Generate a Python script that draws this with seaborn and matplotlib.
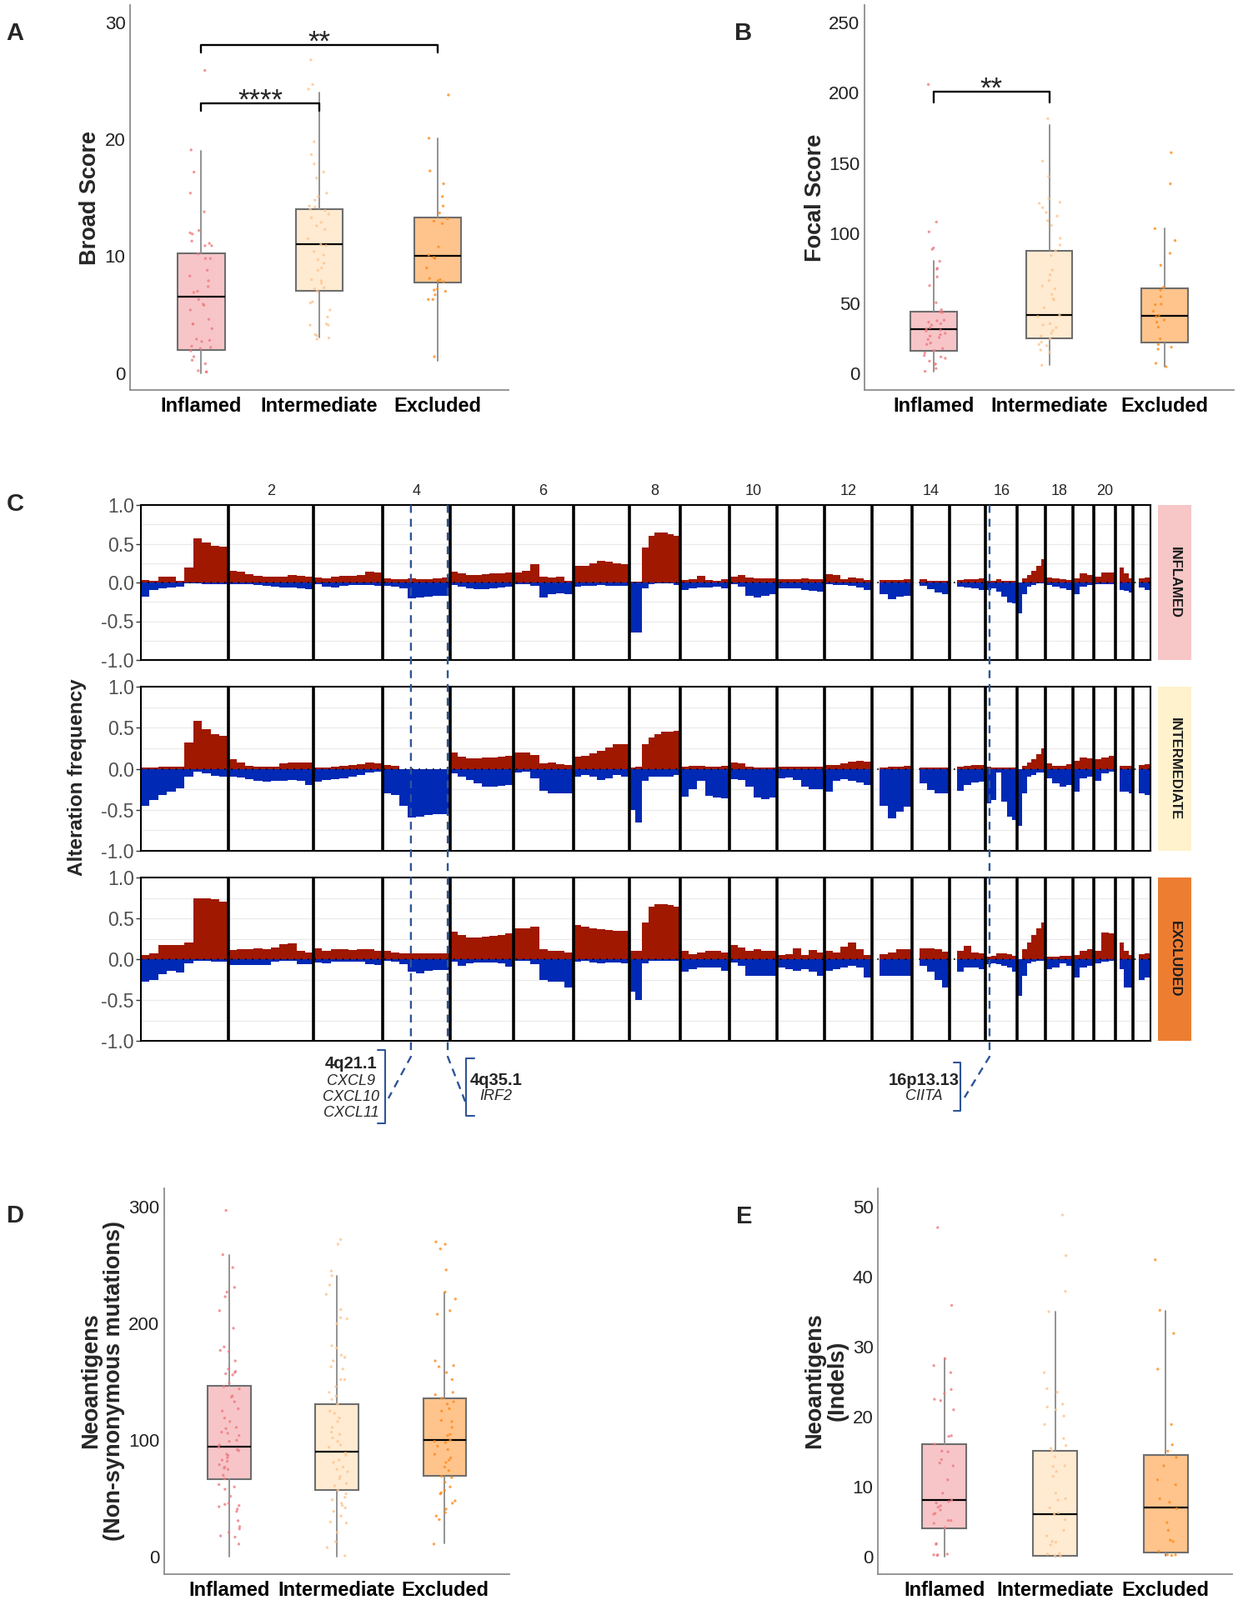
import numpy as np
import pandas as pd
import seaborn as sns
import matplotlib.pyplot as plt
from matplotlib import font_manager
from matplotlib.lines import Line2D

nan = np.nan

groups = ["Inflamed", "Intermediate", "Excluded"]
box_fill = {"Inflamed": "#F7C5C8", "Intermediate": "#FFEBD2", "Excluded": "#FFC48C"}
dot_col = {"Inflamed": "#EE7B80", "Intermediate": "#FFC48E", "Excluded": "#FF8A1C"}

# box stats per group: [whisker low, q1, median, q3, whisker high]
broad_box = [[0.0, 2.0, 6.55, 10.25, 19.0], [3.05, 7.04, 11.04, 14.06, 24.0], [1.07, 7.78, 10.04, 13.28, 20.06]]
broad_inflamed = [25.9, 19.1, 17.2, 15.4, 13.8, 12.2, 12.0, 11.9, 11.3, 11.1, 10.9, 10.9, 10.2, 9.8, 9.8, 8.8,
                  8.3, 7.9, 7.4, 7.0, 6.9, 6.3, 5.9, 5.8, 5.4, 4.6, 4.2, 4.2, 3.8, 2.9, 2.8, 2.7, 2.3, 2.2,
                  2.1, 1.9, 1.4, 1.1, 0.8, 0.2, 0.1, 0.1]
broad_intermediate = [26.8, 24.7, 24.3, 19.8, 18.7, 17.9, 17.2, 16.7, 15.4, 15.1, 14.8, 14.3, 14.2, 14.0, 13.9,
                      13.6, 13.3, 12.9, 12.6, 12.3, 11.5, 11.0, 10.9, 10.4, 10.1, 9.7, 9.4, 9.0, 8.8, 8.0, 7.9,
                      7.7, 7.3, 7.2, 7.0, 6.1, 6.0, 5.4, 4.8, 4.2, 4.1, 4.1, 3.3, 3.2, 3.0, 2.9]
broad_excluded = [23.8, 20.1, 17.3, 16.2, 15.1, 14.3, 13.7, 13.2, 13.0, 12.8, 10.8, 10.1, 9.9, 9.8, 9.0, 8.1,
                  8.0, 7.9, 7.8, 7.2, 7.1, 7.0, 6.7, 6.3, 6.3, 1.4]

focal_box = [[1.6, 16.4, 31.5, 44.1, 80.2], [5.9, 25.3, 41.6, 87.5, 177.2], [4.9, 22.2, 41.0, 61.0, 103.3]]
focal_inflamed = [206, 108, 101, 89.5, 88.5, 80, 75, 74.4, 68.9, 62.7, 50.5, 45.5, 44, 43.5, 38, 37.6, 36.6,
                  35.6, 34.6, 32.7, 31.7, 31, 30.3, 28.7, 27.7, 26.7, 25.7, 24.3, 21.8, 20.8, 17.8, 16.4,
                  14.8, 12.9, 11.9, 10.9, 8.9, 6.9, 6.3, 3.6, 1.6]
focal_intermediate = [181.7, 151.4, 140.5, 124.7, 122.1, 121.3, 118.2, 114.8, 112.2, 108.9, 105.5, 96.4, 91.6,
                      87.5, 84.1, 73.8, 70.3, 66.3, 62.4, 60.4, 56.4, 53.4, 52.5, 46.9, 41.6, 40.6, 35.6,
                      34.6, 32.7, 30.7, 28.7, 26.7, 24.7, 22.4, 20.8, 19.8, 16.8, 15.2, 5.9]
focal_excluded = [157.4, 135.2, 103.3, 94.8, 85.7, 77.2, 61.4, 59.4, 54.8, 49.5, 49.1, 44.5, 41.6, 40.6, 38.2,
                  36.6, 33.1, 24.7, 20.8, 18.8, 17.4, 7.3, 4.9]

nonsyn_box = [[0, 66.4, 94.5, 146.4, 258.8], [0, 57.6, 90.5, 131.0, 241.0], [11.4, 69.5, 100.5, 135.7, 226.7]]
nonsyn_inflamed = [297, 259, 248, 231, 227, 223, 211, 196, 180, 177, 176, 168, 161, 159, 158, 157, 156, 149,
                   146, 144, 138, 137, 133, 127, 125, 119, 116, 111, 110, 107, 106, 104, 100, 99, 96, 94, 92,
                   91, 88, 87, 85, 83, 82, 79, 77, 76, 75, 70, 67, 62, 60, 58, 52, 46, 45, 44, 43, 41, 39,
                   31, 26, 24, 21, 18, 17, 11]
nonsyn_intermediate = [272, 268, 245, 241, 233, 225, 212, 205, 204, 200, 181, 179, 173, 171, 168, 163, 161,
                       152, 152, 146, 141, 138, 135, 131, 125, 123, 119, 116, 111, 107, 105, 102, 99, 96, 94,
                       89, 87, 83, 81, 77, 75, 73, 69, 67, 63, 61, 57, 54, 51, 49, 46, 44, 42, 39, 35, 30,
                       29, 21, 13, 8, 1]
nonsyn_excluded = [270, 268, 264, 246, 227, 221, 211, 208, 168, 164, 163, 158, 152, 141, 139, 136, 133, 131,
                   127, 125, 117, 116, 111, 105, 104, 100, 99, 98, 95, 92, 88, 85, 83, 81, 77, 74, 69, 68, 64,
                   60, 57, 55, 54, 48, 46, 41, 38, 35, 32, 11]

indel_box = [[0, 4.1, 8.1, 16.05, 28.3], [0, 0.1, 6.1, 15.1, 35.0], [0.2, 0.6, 7.1, 14.6, 35.1]]
indel_inflamed = [47, 35.9, 28.3, 27.3, 26.3, 23.9, 23.3, 22.5, 22.3, 21, 17.3, 17.2, 16.1, 15.1, 15, 13.9,
                  13.4, 13, 11, 9.1, 8.1, 7.9, 7.7, 7.3, 7.1, 6.7, 6.2, 6.1, 5.2, 5.2, 4.8, 4.2, 1.9, 1.8,
                  0.4, 0.3, 0.3, 0.2]
indel_intermediate = [48.8, 43, 37.9, 35, 26.3, 24, 23.5, 21.8, 21.4, 21, 20.1, 18.9, 16.9, 15.9, 15.5, 15.1,
                      14.3, 13, 12.9, 12.2, 11.5, 9.1, 8.3, 8.1, 7, 6.3, 6.1, 5.3, 3.8, 3, 2.2, 2.1, 1.7,
                      0.5, 0.4, 0.2, 0.1]
indel_excluded = [42.4, 35.2, 31.9, 26.8, 18.9, 16, 15.1, 14.2, 13, 11, 10.3, 8.3, 7.8, 6.9, 4.9, 3.8, 2.4,
                  2.2, 0.8, 0.3, 0.2, 0.3]

# chromosome lengths (Mb) and alteration frequency, equal-width bins per chromosome
chrom_len = [249, 243, 198, 191, 181, 171, 159, 146, 141, 136, 135, 134, 115, 107, 103, 90, 81, 78, 59, 63, 48, 51]
chrom_labels = ["2", "4", "6", "8", "10", "12", "14", "16", "18", "20"]

inflamed_gain = [
    [0.03, 0.02, 0.07, 0.07, 0.02, 0.19, 0.57, 0.52, 0.47, 0.46],
    [0.15, 0.14, 0.11, 0.09, 0.08, 0.07, 0.07, 0.10, 0.09, 0.08],
    [0.06, 0.05, 0.08, 0.09, 0.09, 0.10, 0.14, 0.13],
    [0.05, 0.04, 0.04, 0.05, 0.04, 0.04, 0.05, 0.06],
    [0.14, 0.12, 0.10, 0.10, 0.11, 0.12, 0.12, 0.13],
    [0.13, 0.15, 0.24, 0.07, 0.06, 0.07, 0.02],
    [0.22, 0.22, 0.25, 0.28, 0.27, 0.25, 0.24],
    [0.01, 0.01, 0.45, 0.60, 0.64, 0.64, 0.62, 0.60],
    [0.03, 0.04, 0.09, 0.03, 0.02, 0.04],
    [0.08, 0.10, 0.06, 0.05, 0.05, 0.05],
    [0.04, 0.04, 0.04, 0.05, 0.04, 0.04],
    [0.11, 0.10, 0.04, 0.06, 0.05, 0.03],
    [nan, 0.03, 0.03, 0.03, 0.04],
    [nan, 0.04, 0.02, 0.02, 0.02],
    [nan, 0.03, 0.04, 0.04, 0.05],
    [0.02, 0.02, 0.04, 0.02, 0.02, 0.02],
    [0.0, 0.05, 0.10, 0.15, 0.22, 0.30],
    [0.06, 0.05, 0.04, 0.03],
    [0.05, 0.12, 0.10],
    [0.07, 0.13, 0.13],
    [nan, 0.19, 0.12, 0.05],
    [nan, 0.05, 0.06],
]
inflamed_loss = [
    [-0.18, -0.10, -0.07, -0.06, -0.05, -0.01, -0.01, -0.02, -0.02, -0.02],
    [-0.02, -0.02, -0.02, -0.03, -0.04, -0.05, -0.06, -0.06, -0.07, -0.09],
    [-0.02, -0.05, -0.06, -0.04, -0.03, -0.03, -0.03, -0.04],
    [-0.04, -0.05, -0.08, -0.20, -0.19, -0.18, -0.17, -0.17],
    [-0.03, -0.05, -0.08, -0.09, -0.09, -0.07, -0.06, -0.05],
    [-0.02, -0.02, -0.04, -0.19, -0.15, -0.14, -0.15],
    [-0.05, -0.04, -0.04, -0.03, -0.04, -0.04, -0.04],
    [-0.64, -0.64, -0.08, -0.02, -0.01, -0.01, -0.01, -0.03],
    [-0.10, -0.08, -0.06, -0.06, -0.05, -0.08],
    [-0.02, -0.05, -0.17, -0.19, -0.17, -0.15],
    [-0.08, -0.07, -0.07, -0.10, -0.11, -0.12],
    [-0.02, -0.03, -0.03, -0.04, -0.06, -0.10],
    [nan, -0.15, -0.22, -0.18, -0.17],
    [nan, -0.04, -0.09, -0.13, -0.15],
    [nan, -0.05, -0.06, -0.08, -0.10],
    [-0.10, -0.07, -0.12, -0.18, -0.26, -0.27],
    [-0.40, -0.15, -0.05, -0.03, -0.01, -0.01],
    [-0.03, -0.05, -0.07, -0.10],
    [-0.15, -0.05, -0.03],
    [-0.02, -0.02, -0.02],
    [nan, -0.10, -0.11, -0.13],
    [nan, -0.06, -0.10],
]
intermediate_gain = [
    [0.02, 0.02, 0.03, 0.03, 0.03, 0.32, 0.58, 0.48, 0.42, 0.40],
    [0.12, 0.08, 0.04, 0.03, 0.03, 0.03, 0.07, 0.08, 0.08, 0.08],
    [0.02, 0.02, 0.03, 0.04, 0.05, 0.06, 0.08, 0.07],
    [0.05, 0.04, 0.0, 0.0, 0.0, 0.0, 0.0, 0.0],
    [0.20, 0.15, 0.13, 0.13, 0.14, 0.14, 0.15, 0.16],
    [0.20, 0.20, 0.17, 0.07, 0.08, 0.06, 0.05],
    [0.15, 0.16, 0.19, 0.22, 0.26, 0.30, 0.30],
    [0.02, 0.03, 0.30, 0.38, 0.42, 0.45, 0.45, 0.46],
    [0.03, 0.04, 0.04, 0.03, 0.03, 0.04],
    [0.08, 0.07, 0.03, 0.02, 0.02, 0.02],
    [0.03, 0.03, 0.03, 0.03, 0.03, 0.03],
    [0.05, 0.05, 0.07, 0.09, 0.10, 0.09],
    [nan, 0.02, 0.03, 0.03, 0.04],
    [nan, 0.02, 0.02, 0.02, 0.02],
    [nan, 0.03, 0.04, 0.05, 0.05],
    [0.03, 0.02, 0.02, 0.02, 0.02, 0.02],
    [0.0, 0.04, 0.08, 0.12, 0.18, 0.25],
    [0.07, 0.04, 0.04, 0.06],
    [0.10, 0.14, 0.13],
    [0.12, 0.14, 0.16],
    [nan, 0.04, 0.04, 0.04],
    [nan, 0.05, 0.06],
]
intermediate_loss = [
    [-0.45, -0.38, -0.32, -0.28, -0.24, -0.10, -0.04, -0.06, -0.09, -0.10],
    [-0.10, -0.11, -0.13, -0.15, -0.16, -0.15, -0.15, -0.14, -0.15, -0.20],
    [-0.16, -0.14, -0.13, -0.12, -0.10, -0.08, -0.05, -0.04],
    [-0.30, -0.32, -0.45, -0.59, -0.58, -0.56, -0.55, -0.55],
    [-0.06, -0.10, -0.14, -0.18, -0.22, -0.22, -0.21, -0.20],
    [-0.05, -0.04, -0.12, -0.27, -0.30, -0.30, -0.30],
    [-0.10, -0.08, -0.10, -0.14, -0.12, -0.08, -0.10],
    [-0.50, -0.65, -0.15, -0.10, -0.10, -0.10, -0.10, -0.08],
    [-0.34, -0.25, -0.15, -0.33, -0.35, -0.36],
    [-0.13, -0.14, -0.22, -0.35, -0.37, -0.35],
    [-0.12, -0.11, -0.14, -0.22, -0.25, -0.25],
    [-0.28, -0.15, -0.13, -0.15, -0.17, -0.20],
    [nan, -0.45, -0.60, -0.52, -0.46],
    [nan, -0.18, -0.26, -0.30, -0.30],
    [nan, -0.27, -0.20, -0.17, -0.16],
    [-0.42, -0.38, -0.05, -0.40, -0.58, -0.62],
    [-0.70, -0.30, -0.10, -0.08, -0.05, -0.05],
    [-0.12, -0.18, -0.22, -0.20],
    [-0.28, -0.12, -0.10],
    [-0.15, -0.06, -0.04],
    [nan, -0.28, -0.28, -0.30],
    [nan, -0.30, -0.32],
]
excluded_gain = [
    [0.05, 0.07, 0.17, 0.17, 0.17, 0.20, 0.74, 0.74, 0.73, 0.70],
    [0.11, 0.12, 0.12, 0.13, 0.12, 0.14, 0.18, 0.19, 0.10, 0.08],
    [0.13, 0.10, 0.12, 0.12, 0.11, 0.12, 0.12, 0.10],
    [0.10, 0.08, 0.07, 0.07, 0.07, 0.07, 0.07, 0.07],
    [0.34, 0.30, 0.27, 0.27, 0.28, 0.29, 0.30, 0.32],
    [0.38, 0.38, 0.40, 0.12, 0.10, 0.10, 0.08],
    [0.42, 0.40, 0.38, 0.37, 0.36, 0.35, 0.35],
    [0.10, 0.10, 0.45, 0.64, 0.67, 0.67, 0.66, 0.64],
    [0.10, 0.06, 0.08, 0.10, 0.10, 0.08],
    [0.17, 0.14, 0.10, 0.12, 0.10, 0.10],
    [0.05, 0.06, 0.13, 0.05, 0.11, 0.08],
    [0.10, 0.08, 0.15, 0.20, 0.12, 0.05],
    [nan, 0.06, 0.08, 0.12, 0.12],
    [nan, 0.13, 0.13, 0.12, 0.09],
    [nan, 0.10, 0.16, 0.08, 0.07],
    [0.03, 0.04, 0.07, 0.07, 0.06, 0.04],
    [0.0, 0.12, 0.20, 0.30, 0.38, 0.45],
    [0.03, 0.03, 0.04, 0.04],
    [0.05, 0.10, 0.12],
    [0.10, 0.33, 0.32],
    [nan, 0.20, 0.10, 0.05],
    [nan, 0.06, 0.07],
]
excluded_loss = [
    [-0.28, -0.26, -0.18, -0.14, -0.16, -0.05, -0.02, -0.02, -0.03, -0.03],
    [-0.07, -0.07, -0.07, -0.07, -0.07, -0.03, -0.02, -0.02, -0.06, -0.06],
    [-0.04, -0.05, -0.03, -0.03, -0.03, -0.03, -0.06, -0.07],
    [-0.02, -0.03, -0.06, -0.15, -0.17, -0.14, -0.13, -0.13],
    [-0.03, -0.08, -0.05, -0.04, -0.04, -0.04, -0.05, -0.09],
    [-0.02, -0.02, -0.06, -0.26, -0.28, -0.28, -0.35],
    [-0.03, -0.02, -0.04, -0.05, -0.04, -0.04, -0.05],
    [-0.40, -0.50, -0.05, -0.02, -0.02, -0.02, -0.02, -0.02],
    [-0.15, -0.12, -0.10, -0.10, -0.10, -0.14],
    [-0.04, -0.08, -0.20, -0.20, -0.20, -0.20],
    [-0.10, -0.12, -0.14, -0.12, -0.15, -0.20],
    [-0.14, -0.12, -0.10, -0.08, -0.10, -0.22],
    [nan, -0.20, -0.20, -0.20, -0.20],
    [nan, -0.08, -0.15, -0.25, -0.35],
    [nan, -0.15, -0.10, -0.10, -0.12],
    [-0.06, -0.05, -0.06, -0.08, -0.10, -0.15],
    [-0.45, -0.20, -0.05, -0.03, -0.02, -0.02],
    [-0.12, -0.10, -0.05, -0.08],
    [-0.22, -0.10, -0.08],
    [-0.05, -0.03, -0.02],
    [nan, -0.12, -0.35, -0.35],
    [nan, -0.25, -0.22],
]

strip_names = ["INFLAMED", "INTERMEDIATE", "EXCLUDED"]
strip_cols = ["#F7C6C7", "#FFF2CC", "#ED7D31"]

# (chromosome, position in Mb, label, genes)
loci = [(4, 80, "4q21.1", ["CXCL9", "CXCL10", "CXCL11"]),
        (4, 185, "4q35.1", ["IRF2"]),
        (16, 11, "16p13.13", ["CIITA"])]

sns.set_theme(style="white")
plt.rcParams["font.family"] = ["Liberation Sans", "DejaVu Sans"]

narrow = "Liberation Sans Narrow"
narrow_size = 17.5
try:
    font_manager.findfont(font_manager.FontProperties(family=narrow), fallback_to_default=False)
except ValueError:
    narrow = "Liberation Sans"
    narrow_size = 16.5

W, H = 1485, 1920
fig = plt.figure(figsize=(W / 100, H / 100), dpi=100)


def px_axes(left, top, right, bottom):
    return fig.add_axes([left / W, 1 - bottom / H, (right - left) / W, (bottom - top) / H])


def fx(px):
    return px / W


def fy(py):
    return 1 - py / H


def box_panel(ax, stats, points, ylim, yticks):
    bstats = [dict(whislo=s[0], q1=s[1], med=s[2], q3=s[3], whishi=s[4], fliers=[], label=g)
              for s, g in zip(stats, groups)]
    bp = ax.bxp(bstats, positions=[0, 1, 2], widths=0.4, patch_artist=True,
                showcaps=False, showfliers=False,
                boxprops=dict(edgecolor="#6e6e6e", linewidth=1.5),
                medianprops=dict(color="black", linewidth=1.6),
                whiskerprops=dict(color="#8a8a8a", linewidth=1.3))
    for patch, g in zip(bp["boxes"], groups):
        patch.set_facecolor(box_fill[g])
        patch.set_zorder(2)

    df = pd.DataFrame({
        "group": np.repeat(groups, [len(p) for p in points]),
        "value": np.concatenate(points)
    })
    sns.stripplot(data=df, x="group", y="value", hue="group", order=groups,
                  hue_order=groups, palette=dot_col, jitter=0.1, size=2.4,
                  alpha=0.8, linewidth=0, legend=False, ax=ax, zorder=3)

    ax.set_xlim(-0.6, 2.6)
    ax.set_ylim(*ylim)
    ax.set_yticks(yticks)
    ax.set_yticklabels([str(t) for t in yticks], fontsize=16, color="#222222")
    ax.set_xticks([0, 1, 2])
    ax.set_xticklabels(groups, fontsize=17, fontweight="bold", color="black")
    ax.set_xlabel("")
    ax.set_ylabel("")
    for side in ["top", "right"]:
        ax.spines[side].set_visible(False)
    for side in ["left", "bottom"]:
        ax.spines[side].set_color("#8c8c8c")
        ax.spines[side].set_linewidth(1.3)
    ax.tick_params(axis="x", length=3, width=1, color="#8c8c8c", pad=3)
    ax.tick_params(axis="y", length=2, width=1, color="#8c8c8c", pad=2)
    ax.set_facecolor("white")


def bracket(ax, x1, x2, y, drop, text, ty):
    ax.plot([x1, x1, x2, x2], [y - drop, y, y, y - drop], color="black", lw=1.7,
            clip_on=False, zorder=4)
    ax.text((x1 + x2) / 2, ty, text, ha="center", va="baseline", fontsize=25)


# Panel A
ax_a = px_axes(156, 6, 610, 468)
box_panel(ax_a, broad_box, [broad_inflamed, broad_intermediate, broad_excluded],
          (-1.45, 31.5), [0, 10, 20, 30])
bracket(ax_a, 0, 2, 28.1, 0.65, "**", 27.6)
bracket(ax_a, 0, 1, 23.1, 0.65, "****", 22.6)
fig.text(fx(108), fy(237), "Broad Score", rotation=90, ha="center", va="center",
         fontsize=19.5, fontweight="bold")

# Panel B
ax_b = px_axes(1037, 6, 1480, 468)
box_panel(ax_b, focal_box, [focal_inflamed, focal_intermediate, focal_excluded],
          (-11.7, 262.6), [0, 50, 100, 150, 200, 250])
bracket(ax_b, 0, 1, 200.9, 7.5, "**", 197.0)
fig.text(fx(978), fy(237), "Focal Score", rotation=90, ha="center", va="center",
         fontsize=19.5, fontweight="bold")

# Panel D
ax_d = px_axes(197, 1426, 611, 1889)
box_panel(ax_d, nonsyn_box, [nonsyn_inflamed, nonsyn_intermediate, nonsyn_excluded],
          (-14.8, 315.9), [0, 100, 200, 300])
fig.text(fx(123), fy(1657), "Neoantigens\n(Non-synonymous mutations)", rotation=90,
         ha="center", va="center", fontsize=19.5, fontweight="bold", linespacing=1.05)

# Panel E
ax_e = px_axes(1053, 1426, 1478, 1889)
box_panel(ax_e, indel_box, [indel_inflamed, indel_intermediate, indel_excluded],
          (-2.46, 52.6), [0, 10, 20, 30, 40, 50])
fig.text(fx(991), fy(1657), "Neoantigens\n(Indels)", rotation=90,
         ha="center", va="center", fontsize=19.5, fontweight="bold", linespacing=1.05)

# Panel C: genome-wide alteration frequency
offsets = np.concatenate([[0], np.cumsum(chrom_len)])
rows = [(606, 792), (824, 1021), (1053, 1249)]
profiles = [(inflamed_gain, inflamed_loss), (intermediate_gain, intermediate_loss),
            (excluded_gain, excluded_loss)]
c_axes = []
for (top, bottom), (gain, loss), name, scol in zip(rows, profiles, strip_names, strip_cols):
    ax = px_axes(169, top, 1380, bottom)
    c_axes.append(ax)
    for i in range(len(chrom_len)):
        g = np.nan_to_num(np.array(gain[i], dtype=float))
        l = np.nan_to_num(np.array(loss[i], dtype=float))
        edges = np.linspace(offsets[i], offsets[i + 1], len(g) + 1)
        ax.fill_between(edges, 0, np.append(g, g[-1]), step="post", color="#A01800",
                        lw=0, zorder=2)
        ax.fill_between(edges, 0, np.append(l, l[-1]), step="post", color="#0029B5",
                        lw=0, zorder=2)
    ax.axhline(0, color="black", lw=1.2, linestyle=(0, (1, 4)), zorder=3)
    for b in offsets[1:-1]:
        ax.axvline(b, color="black", lw=2.6, zorder=4)
    ax.set_xlim(0, offsets[-1])
    ax.set_ylim(-1, 1)
    ax.set_xticks([])
    ax.set_yticks([-1, -0.5, 0, 0.5, 1])
    ax.set_yticklabels(["-1.0", "-0.5", "0.0", "0.5", "1.0"], fontsize=narrow_size,
                       color="#4D4D4D", family=narrow)
    ax.set_yticks([-0.75, -0.25, 0.25, 0.75], minor=True)
    ax.grid(which="both", axis="y", color="#EBEBEB", lw=1.0)
    ax.set_axisbelow(True)
    ax.tick_params(axis="y", which="major", length=4, width=1, color="#333333", pad=2, left=True)
    ax.tick_params(axis="y", which="minor", length=0)
    for sp in ax.spines.values():
        sp.set_color("black")
        sp.set_linewidth(1.5)
        sp.set_zorder(5)

    sax = px_axes(1389, top, 1429, bottom)
    sax.set_facecolor(scol)
    sax.set_xticks([])
    sax.set_yticks([])
    for sp in sax.spines.values():
        sp.set_visible(False)
    sax.text(0.5, 0.5, name, rotation=-90, ha="center", va="center", fontsize=12,
             fontweight="bold", color="#1a1a1a", transform=sax.transAxes)

# even chromosome numbers on top
top_ax = c_axes[0]
for lab in chrom_labels:
    k = int(lab) - 1
    centre = (offsets[k] + offsets[k + 1]) / 2
    top_ax.text(centre, 1.09, lab, ha="center", va="center", fontsize=13,
                transform=top_ax.get_xaxis_transform())

fig.text(fx(93), fy(933), "Alteration frequency", rotation=90, ha="center",
         va="center", fontsize=17.5, fontweight="bold")

# dashed locus lines, brackets and labels
loc_col = "#2E5597"
to_fig = fig.transFigure.inverted()
bend = [(-27, 50), (21, 54), (-30, 49)]
br = [(-31, -9, 1260, 1348), (22, 10, 1270, 1339), (-35, -8, 1275, 1333)]
txt_dx = [-72, 58, -79]
for (chrom, pos, band, genes), (dx, dy), (bx, tick, b0, b1), tdx in zip(loci, bend, br, txt_dx):
    xd = top_ax.transData.transform((offsets[chrom - 1] + pos, 0))[0]
    xpx = to_fig.transform((xd, 0))[0] * W
    fig.add_artist(Line2D([fx(xpx), fx(xpx), fx(xpx + dx)], [fy(606), fy(1268), fy(1268 + dy)],
                          color=loc_col, lw=1.7, linestyle=(0, (4, 3)), zorder=10))
    xb = xpx + bx
    fig.add_artist(Line2D([fx(xb + tick), fx(xb), fx(xb), fx(xb + tick)],
                          [fy(b0), fy(b0), fy(b1), fy(b1)], color=loc_col, lw=1.5))
    xt = xpx + tdx
    fig.text(fx(xt), fy(1277 if len(genes) > 1 else 1296), band, ha="center", va="center",
             fontsize=14.5, fontweight="bold")
    for j, gname in enumerate(genes):
        gy = (1297 + 19.5 * j) if len(genes) > 1 else 1315
        fig.text(fx(xt), fy(gy), gname, ha="center", va="center", fontsize=13,
                 fontstyle="italic")

# panel letters
for letter, (x, y) in zip("ABCDE", [(18, 40), (892, 40), (18, 605), (18, 1459), (893, 1460)]):
    fig.text(fx(x), fy(y), letter, ha="center", va="center", fontsize=21, fontweight="bold")

plt.savefig("out.png", dpi=100)
plt.close()
